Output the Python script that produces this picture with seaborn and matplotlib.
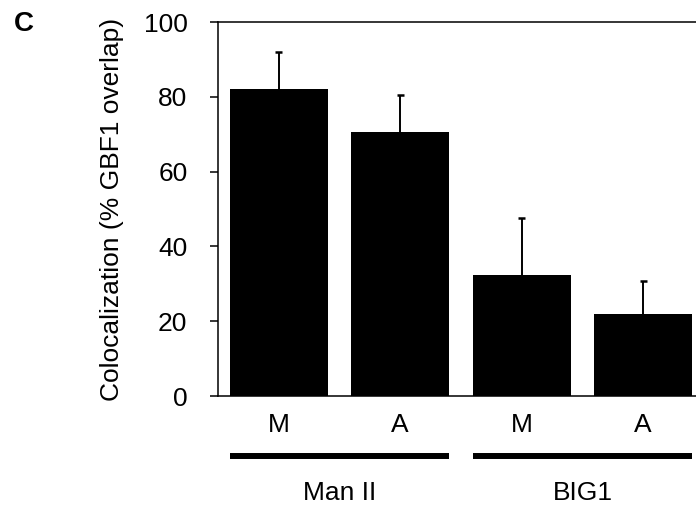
import matplotlib
matplotlib.use("Agg")
import matplotlib.pyplot as plt
import matplotlib.transforms as mtransforms
import seaborn as sns
import pandas as pd
import numpy as np

# ---- data ----
groups = ["Man II", "Man II", "BIG1", "BIG1"]
conditions = ["M", "A", "M", "A"]
values = [82, 70.5, 32.3, 22]
err_upper = [92, 80.5, 47.7, 30.8]
ylabel = "Colocalization (% GBF1 overlap)"
yticks = [0, 20, 40, 60, 80, 100]
group_names = ["Man II", "BIG1"]

keys = [f"{g}-{c}" for g, c in zip(groups, conditions)]
df = pd.DataFrame({"key": keys, "value": values})

sns.set_style("ticks")
plt.rcParams["font.family"] = ["Liberation Sans", "DejaVu Sans"]
plt.rcParams["text.color"] = "black"
plt.rcParams["axes.labelcolor"] = "black"
plt.rcParams["xtick.color"] = "black"
plt.rcParams["ytick.color"] = "black"

fig = plt.figure(figsize=(6.96, 5.07), dpi=100)
ax = fig.add_axes([218 / 696, 111 / 507, 486 / 696, 374 / 507])

sns.barplot(data=df, x="key", y="value", order=keys, color="black",
            width=0.81, linewidth=0, saturation=1, errorbar=None, ax=ax)

xs = np.arange(len(keys))
ax.vlines(xs, values, err_upper, color="black", lw=1.4, zorder=3)
ax.hlines(err_upper, xs - 0.03, xs + 0.03, color="black", lw=1.8, zorder=3)

ax.set_xlim(-0.5, 3.5)
ax.set_ylim(0, 100)
ax.set_yticks(yticks)
ax.set_yticklabels([str(t) for t in yticks])
ax.set_xticks(xs)
ax.set_xticklabels(conditions)
ax.set_xlabel("")
ax.set_ylabel(ylabel, fontsize=19)
ax.yaxis.set_label_coords(-0.193, 0.5)

ax.tick_params(axis="y", length=6, width=1.1, pad=16, labelsize=19, direction="out")
ax.tick_params(axis="x", length=0, pad=12, labelsize=19)

for side in ["left", "top", "bottom"]:
    ax.spines[side].set_visible(True)
    ax.spines[side].set_linewidth(1.1)
    ax.spines[side].set_color("black")
ax.spines["right"].set_visible(False)

trans = mtransforms.blended_transform_factory(ax.transData, ax.transAxes)
half = 0.405
for gi, name in enumerate(group_names):
    i0, i1 = 2 * gi, 2 * gi + 1
    ax.plot([i0 - half, i1 + half], [-0.160, -0.160], color="black", lw=4.3,
            solid_capstyle="butt", transform=trans, clip_on=False)
    ax.text((i0 + i1) / 2, -0.259, name, transform=trans, ha="center", va="center",
            fontsize=19)

fig.text(24 / 696, 1 - 24 / 507, "C", ha="center", va="center", fontsize=20,
         fontweight="bold")

fig.savefig("out.png", dpi=100)
